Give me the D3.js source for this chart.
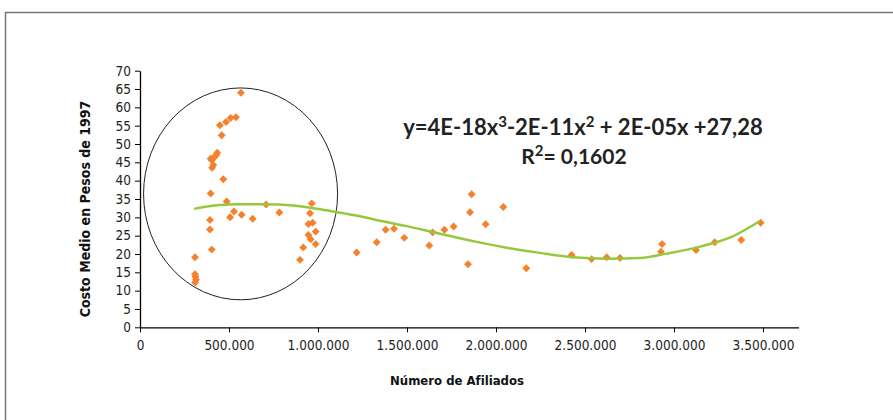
<!DOCTYPE html>
<html lang="es">
    <head>
        <meta charset="UTF-8">
        <title>Costo medio vs afiliados</title>
        <style>
            body { margin: 0; padding: 0; background: #fff; }
            .tick text { font-family: "Liberation Sans Narrow", "DejaVu Sans Condensed", sans-serif; font-size: 13.5px; fill: #222; }
            .axis-title { font-family: "Liberation Sans Narrow", "DejaVu Sans Condensed", sans-serif; font-weight: bold; font-size: 14px; fill: #111; }
            .axis-title.x { font-size: 13px; }
            .eq { font-family: Lato, "Open Sans", sans-serif; font-weight: bold; font-size: 21px; fill: #222; }
            .eq.big { font-size: 22px; }
            .eq .sup { font-size: 15px; }
        </style>
    </head>
    <body>
        <div id="chart"></div>

        <script src="https://d3js.org/d3.v7.min.js"></script>
        <script>
            // afiliados (x) and costo medio (y)
            const afiliados = [
                309000, 312000, 315000, 310000, 309000,
                393000, 393000, 403000, 397000,
                397000, 403000, 405000, 412000, 421000, 428000, 434000,
                459000, 449000, 468000, 483000, 509000, 539000, 567000,
                487000, 506000, 528000, 571000, 633000, 708000, 783000,
                965000, 955000, 946000, 970000, 987000, 946000, 959000, 987000, 917000, 899000,
                1217000, 1330000, 1380000, 1427000, 1485000, 1625000, 1644000, 1710000, 1762000,
                1854000, 1863000, 1843000, 1942000, 2041000, 2170000,
                2425000, 2537000, 2622000, 2697000,
                2933000, 2927000, 3124000, 3229000, 3378000, 3487000
            ];
            const costo = [
                14.5, 13.8, 13.0, 12.2, 19.1,
                29.3, 26.7, 21.2, 36.5,
                46.0, 45.6, 43.5, 44.3, 46.6, 47.0, 47.6,
                52.4, 55.1, 40.4, 56.0, 57.1, 57.3, 64.0,
                34.3, 30.0, 31.6, 30.7, 29.6, 33.5, 31.3,
                33.8, 31.1, 28.2, 28.5, 26.1, 25.2, 24.0, 22.7, 21.8, 18.4,
                20.4, 23.2, 26.6, 26.9, 24.4, 22.3, 25.9, 26.6, 27.5,
                31.4, 36.3, 17.2, 28.1, 32.8, 16.1,
                19.7, 18.6, 19.1, 18.9,
                22.7, 20.6, 21.1, 23.2, 23.8, 28.5
            ];

            // polynomial trend line
            const trendX = [303000, 431000, 562000, 712000, 861000, 974000, 1086000, 1236000, 1311000,
                1498000, 1685000, 1873000, 2060000, 2247000, 2434000, 2622000, 2809000, 2959000,
                3146000, 3333000, 3483000];
            const trendY = [32.3, 33.3, 33.6, 33.6, 33.2, 32.5, 31.6, 30.3, 29.5,
                27.6, 25.5, 23.5, 21.7, 20.3, 19.1, 18.7, 18.9, 20.1,
                22.0, 24.9, 29.0];

            const xTicks = [0, 500000, 1000000, 1500000, 2000000, 2500000, 3000000, 3500000];
            const yTicks = d3.range(0, 75, 5);

            // equation pieces: [text, superscript?]
            const equation = [["y=4E-18x", false], ["3", true], ["-2E-11x", false], ["2", true], [" + 2E-05x +27,28", false]];
            const rSquared = [["R", false], ["2", true], ["= 0,1602", false]];

            // circled group (center and radii in data units)
            const ellipse = { cx: 565000, cy: 36.4, rx: 545000, ry: 28.9 };

            const width = 893, height = 420;
            const svg = d3.select('#chart').append('svg')
                .attr('width', width)
                .attr('height', height);

            // outer frame
            svg.append('path')
                .attr('d', `M5.5,${height} V12.5 H${width}`)
                .attr('fill', 'none')
                .attr('stroke', '#777')
                .attr('stroke-width', 1.5);

            const xScale = d3.scaleLinear().domain([0, 3700000]).range([140, 798.6]);
            const yScale = d3.scaleLinear().domain([0, 70]).range([327.3, 70.7]);

            const esLocale = d3.formatLocale({ decimal: ',', thousands: '.', grouping: [3], currency: ['', ''] });
            const fmt = esLocale.format(',');

            const xAxis = svg.append('g')
                .attr('transform', `translate(0, ${yScale(0)})`)
                .call(d3.axisBottom(xScale).tickValues(xTicks).tickFormat(fmt).tickSize(5).tickSizeOuter(0).tickPadding(8));
            xAxis.select('.domain').attr('stroke', '#000').attr('stroke-width', 1.3);

            const yAxis = svg.append('g')
                .attr('transform', `translate(${xScale(0)}, 0)`)
                .call(d3.axisLeft(yScale).tickValues(yTicks).tickSize(5).tickSizeOuter(0).tickPadding(4));
            yAxis.select('.domain').attr('stroke', '#000').attr('stroke-width', 1.3);

            svg.append('text')
                .attr('class', 'axis-title x')
                .attr('x', 457)
                .attr('y', 385)
                .attr('text-anchor', 'middle')
                .text('Número de Afiliados');

            svg.append('text')
                .attr('class', 'axis-title')
                .attr('transform', `translate(90, ${(yScale(0) + yScale(70)) / 2 + 10}) rotate(-90)`)
                .attr('text-anchor', 'middle')
                .text('Costo Medio en Pesos de 1997');

            // ellipse around the small insurers
            svg.append('ellipse')
                .attr('cx', xScale(ellipse.cx))
                .attr('cy', yScale(ellipse.cy))
                .attr('rx', xScale(ellipse.rx) - xScale(0))
                .attr('ry', yScale(0) - yScale(ellipse.ry))
                .attr('fill', 'none')
                .attr('stroke', '#222')
                .attr('stroke-width', 1);

            const points = afiliados.map((a, i) => ({ x: a, y: costo[i] }));
            const diamond = d3.symbol().type(d3.symbolDiamond2).size(40);

            svg.selectAll('.pt')
                .data(points)
                .enter().append('path')
                .attr('class', 'pt')
                .attr('d', diamond)
                .attr('transform', d => `translate(${xScale(d.x)}, ${yScale(d.y)})`)
                .attr('fill', '#f5812d');

            const trend = trendX.map((t, i) => ({ x: t, y: trendY[i] }));
            svg.append('path')
                .datum(trend)
                .attr('fill', 'none')
                .attr('stroke', '#95c93d')
                .attr('stroke-width', 2.5)
                .attr('d', d3.line().x(d => xScale(d.x)).y(d => yScale(d.y)).curve(d3.curveMonotoneX));

            function addRichText(parts, x, y, cls) {
                const t = svg.append('text')
                    .attr('class', cls)
                    .attr('x', x)
                    .attr('y', y)
                    .attr('text-anchor', 'middle');
                let raised = false;
                parts.forEach(([s, sup]) => {
                    const sp = t.append('tspan').text(s);
                    if (sup) { sp.attr('class', 'sup').attr('dy', -8); raised = true; }
                    else if (raised) { sp.attr('dy', 8); raised = false; }
                });
                return t;
            }

            addRichText(equation, 583, 135, 'eq big');
            addRichText(rSquared, 574, 164, 'eq');
        </script>
    </body>
</html>
